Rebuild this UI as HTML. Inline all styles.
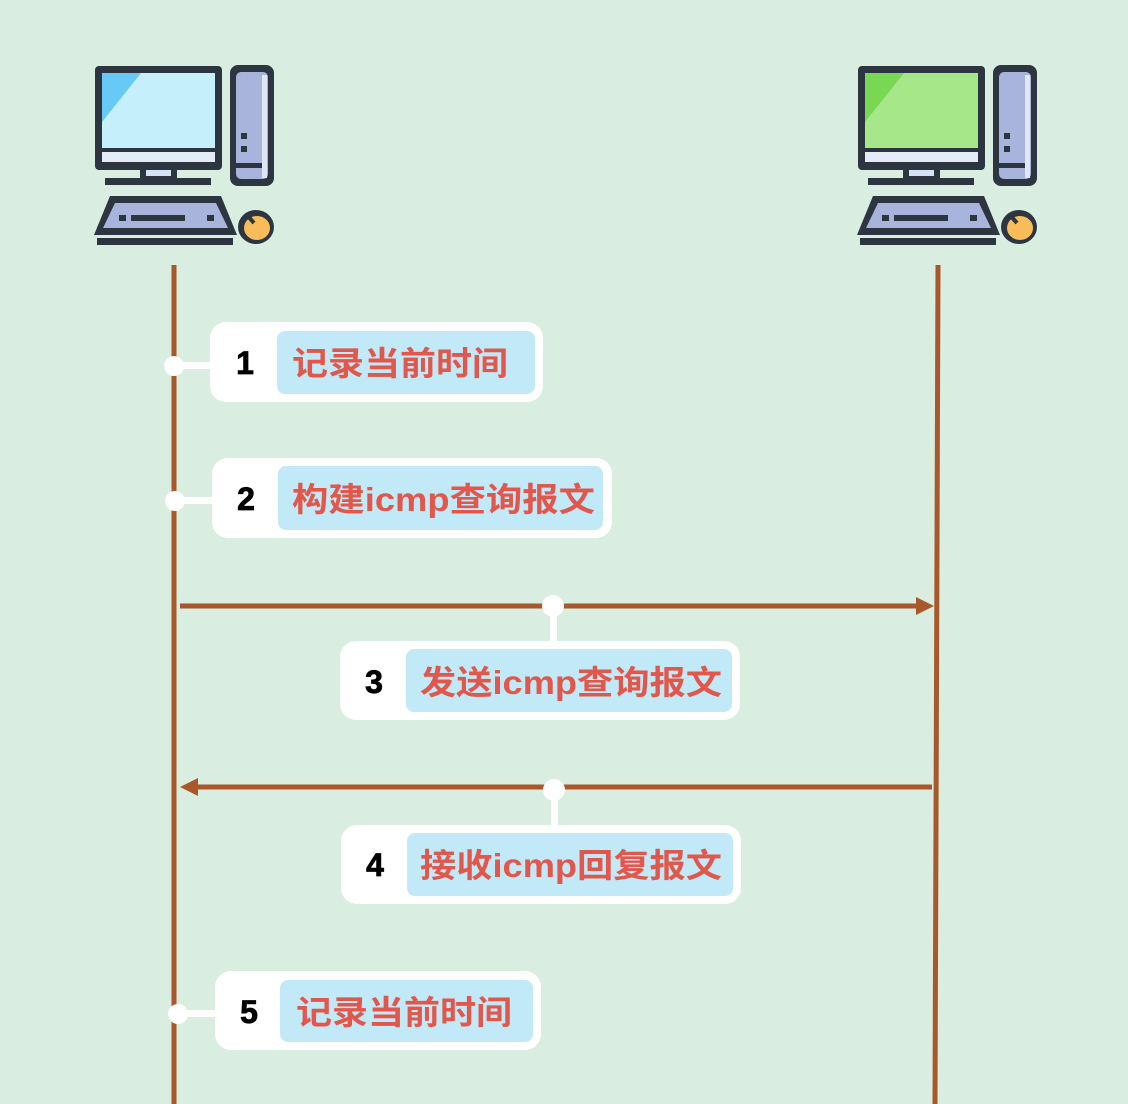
<!DOCTYPE html>
<html><head><meta charset="utf-8"><style>
html,body{margin:0;padding:0;background:#d9ede0;}
svg{display:block}
.t{font-family:"Liberation Sans","Noto Sans CJK SC",sans-serif;font-weight:bold;fill:#e2574b;font-size:33px}
.n{font-family:"Liberation Sans",sans-serif;font-weight:bold;fill:#000;font-size:32px;text-anchor:middle;stroke:#000;stroke-width:0.8}
</style></head><body>
<svg width="1128" height="1104" viewBox="0 0 1128 1104" xmlns="http://www.w3.org/2000/svg">
<rect width="1128" height="1104" fill="#d9ede0"/>
<defs>
<g id="pc">
  <rect x="95" y="66" width="127" height="104" rx="4" fill="#2d3540"/>
  <rect x="102" y="152" width="113" height="10" fill="#e4ecf8"/>
  <rect x="140" y="168" width="37" height="11" fill="#2d3540"/>
  <rect x="146" y="170" width="25" height="6" fill="#d6e2f5"/>
  <rect x="105" y="178" width="106" height="7" fill="#2d3540"/>
  <rect x="230" y="65" width="44" height="121" rx="8" fill="#2d3540"/>
  <rect x="236" y="72" width="32" height="107" rx="5" fill="#a8b4dc"/>
  <rect x="262" y="75" width="5" height="103" fill="#dfe6f6"/>
  <rect x="241" y="133" width="6" height="6" fill="#2d3540"/>
  <rect x="241" y="146" width="6" height="6" fill="#2d3540"/>
  <rect x="234" y="163" width="28" height="5" fill="#2d3540"/>
  <polygon points="110,196 221,196 237,235 94,235" fill="#2d3540"/>
  <polygon points="115,203 216,203 228,228 103,228" fill="#a8b4dc"/>
  <rect x="119" y="215" width="7" height="6" fill="#2d3540"/>
  <rect x="131" y="215" width="54" height="6" fill="#2d3540"/>
  <rect x="207" y="215" width="7" height="6" fill="#2d3540"/>
  <rect x="97" y="238" width="136" height="7" fill="#2d3540"/>
  <ellipse cx="256" cy="227" rx="18" ry="17" fill="#2d3540"/>
  <ellipse cx="257" cy="228" rx="13" ry="12" fill="#f8bd5a"/>
  <line x1="247" y1="215" x2="254" y2="223" stroke="#2d3540" stroke-width="4"/>
</g>
</defs>
<use href="#pc"/>
<rect x="102" y="73" width="113" height="75" fill="#c6effc"/>
<polygon points="102,73 141,73 102,122" fill="#66c9f6"/>
<g transform="translate(763,0)">
  <use href="#pc"/>
  <rect x="102" y="73" width="113" height="75" fill="#a6e78a"/>
  <polygon points="102,73 141,73 102,122" fill="#78d853"/>
</g>

<line x1="174" y1="265" x2="174" y2="1104" stroke="#a9582b" stroke-width="5"/>
<line x1="938" y1="265" x2="935" y2="1104" stroke="#a9582b" stroke-width="5"/>

<line x1="180" y1="606" x2="918" y2="606" stroke="#a9582b" stroke-width="5"/>
<polygon points="916,597 934,606 916,615" fill="#a9582b"/>
<line x1="196" y1="787" x2="932" y2="787" stroke="#a9582b" stroke-width="5"/>
<polygon points="198,778 180,787 198,796" fill="#a9582b"/>

<g fill="#fff" stroke="none">
  <circle cx="174" cy="366" r="10"/><rect x="174" y="362" width="40" height="7"/>
  <circle cx="175" cy="501" r="10"/><rect x="175" y="497" width="40" height="7"/>
  <circle cx="178" cy="1014" r="10"/><rect x="178" y="1010" width="40" height="7"/>
  <circle cx="553" cy="606" r="11"/><rect x="550" y="606" width="7" height="38"/>
  <circle cx="554" cy="790" r="11"/><rect x="551" y="790" width="7" height="38"/>
</g>

<g>
  <rect x="210" y="322" width="333" height="80" rx="16" fill="#fff"/>
  <rect x="277" y="331" width="258" height="63" rx="8" fill="#c2e9f8"/>
  <text class="n" x="245" y="374">1</text>
  <text class="t" x="292" y="375" textLength="216" lengthAdjust="spacingAndGlyphs">记录当前时间</text>

  <rect x="212" y="458" width="400" height="80" rx="16" fill="#fff"/>
  <rect x="278" y="466" width="325" height="64" rx="8" fill="#c2e9f8"/>
  <text class="n" x="246" y="510">2</text>
  <text class="t" x="292" y="511" textLength="303" lengthAdjust="spacingAndGlyphs">构建icmp查询报文</text>

  <rect x="340" y="641" width="400" height="79" rx="16" fill="#fff"/>
  <rect x="406" y="649" width="326" height="63" rx="8" fill="#c2e9f8"/>
  <text class="n" x="374" y="693">3</text>
  <text class="t" x="420" y="694" textLength="302" lengthAdjust="spacingAndGlyphs">发送icmp查询报文</text>

  <rect x="341" y="825" width="400" height="79" rx="16" fill="#fff"/>
  <rect x="407" y="833" width="326" height="63" rx="8" fill="#c2e9f8"/>
  <text class="n" x="375" y="876">4</text>
  <text class="t" x="420" y="877" textLength="302" lengthAdjust="spacingAndGlyphs">接收icmp回复报文</text>

  <rect x="215" y="971" width="326" height="79" rx="16" fill="#fff"/>
  <rect x="280" y="980" width="253" height="62" rx="8" fill="#c2e9f8"/>
  <text class="n" x="249" y="1023">5</text>
  <text class="t" x="296" y="1024" textLength="216" lengthAdjust="spacingAndGlyphs">记录当前时间</text>
</g>
</svg>
</body></html>
